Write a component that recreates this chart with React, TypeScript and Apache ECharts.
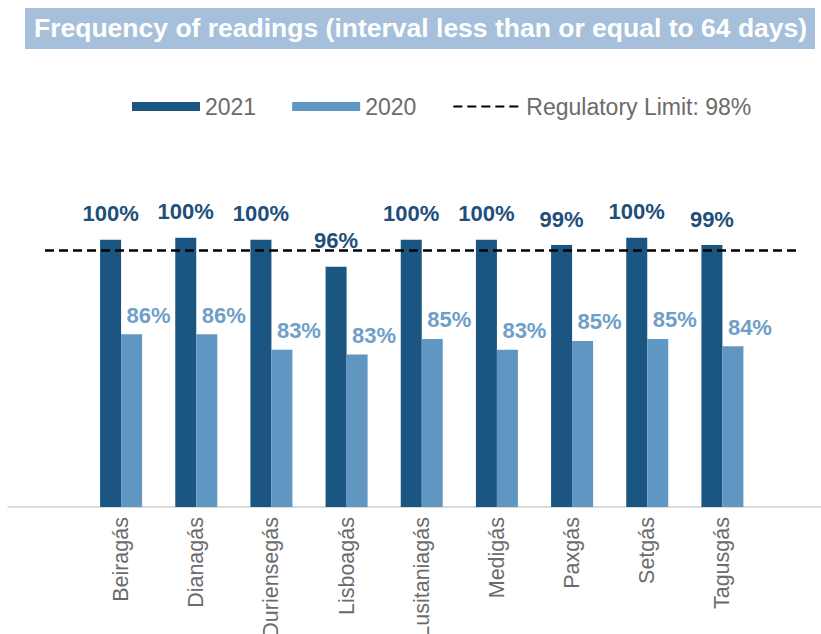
import React, { useEffect, useRef } from "react";
import * as echarts from "echarts";

const titleText = "Frequency of readings (interval less than or equal to 64 days)";
const categories = [
  "Beiragás",
  "Dianagás",
  "Duriensegás",
  "Lisboagás",
  "Lusitaniagás",
  "Medigás",
  "Paxgás",
  "Setgás",
  "Tagusgás",
];
const values2021 = [99.6, 99.9, 99.6, 95.6, 99.6, 99.6, 98.8, 99.9, 98.8];
const values2020 = [85.6, 85.6, 83.3, 82.6, 84.9, 83.3, 84.6, 84.9, 83.8];
const regulatoryLimit = 98;
const limitName = "Regulatory Limit: 98%";
const limitSpan = [0, 1];

const FONT = "'Liberation Sans', Arial, Helvetica, sans-serif";
const DARK = "#1b5582";
const LIGHT = "#6097c2";
const DARK_LABEL = "#1e4f7b";
const LIGHT_LABEL = "#6f9fc8";
const GREY = "#6b6b6b";

export default function App() {
  const ref = useRef<HTMLDivElement>(null);
  useEffect(() => {
    if (!ref.current) return;
    const chart = echarts.init(ref.current, undefined, { renderer: "svg" });
    const fmt = (p: any) => Math.round(p.value) + "%";
    chart.setOption({
      animation: false,
      backgroundColor: "#ffffff",
      graphic: [
        {
          type: "rect",
          left: 25,
          top: 8,
          shape: { width: 790, height: 41 },
          style: { fill: "#a6bfdb" },
          silent: true,
          z: 0,
        },
      ],
      title: {
        text: titleText,
        left: 34,
        top: 14,
        padding: 0,
        textStyle: {
          color: "#ffffff",
          fontSize: 26.5,
          fontWeight: "bold",
          fontFamily: FONT,
        },
        z: 10,
      },
      legend: {
        top: 90,
        left: 127,
        itemWidth: 68,
        itemHeight: 9,
        itemGap: 36,
        textStyle: { fontSize: 23, color: GREY, fontFamily: FONT },
        data: [
          { name: "2021", icon: "rect" },
          { name: "2020", icon: "rect" },
          { name: limitName, itemStyle: { opacity: 0 } },
        ],
      },
      grid: [
        { left: 83.5, right: 61, top: 237, bottom: 127, outerBoundsMode: "none" },
        { left: 45, right: 23, top: 237, bottom: 127, outerBoundsMode: "none" },
        { left: 8, right: 0, top: 237, bottom: 127, outerBoundsMode: "none" },
      ],
      xAxis: [
        {
          type: "category",
          gridIndex: 0,
          data: categories,
          axisLine: { show: false },
          axisTick: { show: false },
          axisLabel: {
            rotate: 90,
            fontSize: 21.5,
            color: GREY,
            margin: 10,
            fontFamily: FONT,
          },
        },
        {
          type: "value",
          gridIndex: 1,
          min: 0,
          max: 1,
          show: false,
        },
        {
          type: "value",
          gridIndex: 2,
          min: 0,
          max: 1,
          axisLine: { show: true, lineStyle: { color: "#cfcfcf", width: 1.5 } },
          axisTick: { show: false },
          axisLabel: { show: false },
          splitLine: { show: false },
        },
      ],
      yAxis: [
        { type: "value", gridIndex: 0, min: 60, max: 100, show: false },
        { type: "value", gridIndex: 1, min: 60, max: 100, show: false },
        { type: "value", gridIndex: 2, min: 60, max: 100, show: false },
      ],
      series: [
        {
          name: "2021",
          type: "bar",
          xAxisIndex: 0,
          yAxisIndex: 0,
          data: values2021,
          barWidth: 21,
          barGap: "0%",
          itemStyle: { color: DARK },
          label: {
            show: true,
            position: "top",
            distance: 15,
            formatter: fmt,
            color: DARK_LABEL,
            fontSize: 22,
            fontWeight: "bold",
            fontFamily: FONT,
          },
        },
        {
          name: "2020",
          type: "bar",
          xAxisIndex: 0,
          yAxisIndex: 0,
          data: values2020,
          barWidth: 21,
          barGap: "0%",
          itemStyle: { color: LIGHT },
          label: {
            show: true,
            position: "top",
            distance: 8,
            offset: [17, 0],
            formatter: fmt,
            color: LIGHT_LABEL,
            fontSize: 22,
            fontWeight: "bold",
            fontFamily: FONT,
          },
        },
        {
          name: limitName,
          type: "line",
          xAxisIndex: 1,
          yAxisIndex: 1,
          data: limitSpan.map((x) => [x, regulatoryLimit]),
          symbol: "none",
          color: "#000000",
          lineStyle: { color: "#000000", width: 2.5, type: [9, 5] },
          z: 5,
        },
      ],
    });
    return () => chart.dispose();
  }, []);
  return (
    <div
      ref={ref}
      style={{ position: "fixed", left: 0, top: 0, width: 821, height: 634 }}
    />
  );
}
